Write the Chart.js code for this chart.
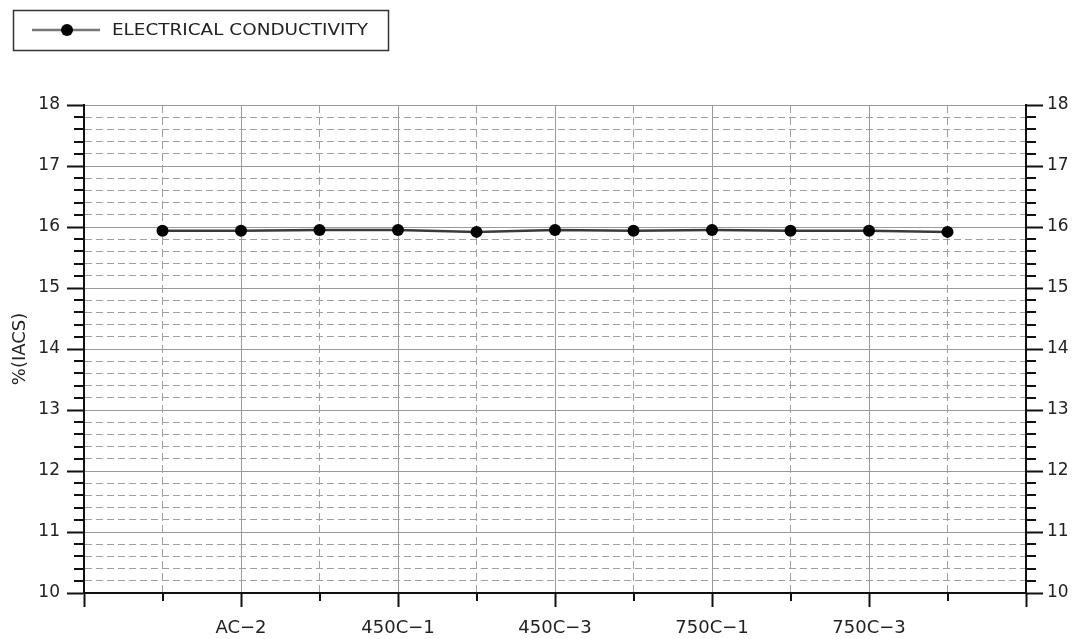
<!DOCTYPE html>
<html>
<head>
<meta charset="utf-8">
<script src="https://cdn.jsdelivr.net/npm/chart.js@4/dist/chart.umd.min.js"></script>
<style>
  html, body { margin: 0; padding: 0; background: #fff; }
  #wrap { width: 1079px; height: 639px; }
</style>
</head>
<body>
<div id="wrap"><canvas id="c" width="1079" height="639"></canvas></div>
<script>
const categories = ['AC−1', 'AC−2', 'AC−3', '450C−1', '450C−2', '450C−3', '450C−4', '750C−1', '750C−2', '750C−3', '750C−4'];
const conductivity = [15.94, 15.94, 15.95, 15.95, 15.92, 15.95, 15.94, 15.95, 15.94, 15.94, 15.92];
const seriesName = 'ELECTRICAL CONDUCTIVITY';
const yTitle = '%(IACS)';
const yMin = 10, yMax = 18, yStep = 0.2;

const isInt = v => Math.abs(v - Math.round(v)) < 1e-6;
const isOdd = v => isInt(v) && Math.abs(Math.round(v)) % 2 === 1;

const points = conductivity.map((v, i) => ({ x: i, y: v }));

const minorTicks = {
  id: 'minorTicks',
  afterDraw(chart) {
    const ctx = chart.ctx;
    ctx.save();
    ctx.strokeStyle = '#111';
    ctx.lineWidth = 2;
    const y = chart.scales.y, y2 = chart.scales.y2, x = chart.scales.x;
    y.ticks.forEach(t => {
      if (isInt(t.value)) return;
      const p = Math.round(y.getPixelForValue(t.value));
      ctx.beginPath(); ctx.moveTo(y.right - 10, p); ctx.lineTo(y.right, p); ctx.stroke();
    });
    y2.ticks.forEach(t => {
      if (isInt(t.value)) return;
      const p = Math.round(y2.getPixelForValue(t.value));
      ctx.beginPath(); ctx.moveTo(y2.left, p); ctx.lineTo(y2.left + 10, p); ctx.stroke();
    });
    x.ticks.forEach(t => {
      if (isOdd(t.value)) return;
      const p = Math.round(x.getPixelForValue(t.value));
      ctx.beginPath(); ctx.moveTo(p, x.top); ctx.lineTo(p, x.top + 8); ctx.stroke();
    });
    ctx.restore();
  }
};

const boxedLegend = {
  id: 'boxedLegend',
  afterDraw(chart) {
    const ctx = chart.ctx;
    ctx.save();
    ctx.strokeStyle = '#333';
    ctx.lineWidth = 1.5;
    ctx.strokeRect(13.5, 10.5, 375, 40);
    ctx.strokeStyle = '#777';
    ctx.lineWidth = 2.5;
    ctx.beginPath(); ctx.moveTo(32, 30); ctx.lineTo(100, 30); ctx.stroke();
    ctx.fillStyle = '#000';
    ctx.beginPath(); ctx.arc(67, 30, 6, 0, Math.PI * 2); ctx.fill();
    ctx.font = '16px "DejaVu Sans"';
    ctx.fillStyle = '#222';
    ctx.textBaseline = 'middle';
    const w = ctx.measureText(seriesName).width;
    const sx = 256 / w;
    ctx.translate(112, 31);
    ctx.scale(sx, 1);
    ctx.fillText(seriesName, 0, 0);
    ctx.restore();
  }
};

new Chart(document.getElementById('c'), {
  type: 'line',
  data: {
    datasets: [{
      label: seriesName,
      data: points,
      borderColor: '#3a3a3a',
      borderWidth: 2.5,
      pointRadius: 6,
      pointHoverRadius: 6,
      pointBackgroundColor: '#000',
      pointBorderColor: '#000',
      pointBorderWidth: 0,
      tension: 0
    }]
  },
  options: {
    responsive: false,
    animation: false,
    events: [],
    layout: { padding: { top: 105, left: 0, right: 0, bottom: 0 } },
    plugins: { legend: { display: false }, tooltip: { enabled: false } },
    scales: {
      x: {
        type: 'linear',
        position: 'bottom',
        min: -1, max: 11,
        afterFit(s) { s.height = 46; },
        ticks: {
          stepSize: 1,
          autoSkip: false,
          maxRotation: 0,
          padding: 11,
          color: '#222',
          font: { size: 18, family: 'DejaVu Sans' },
          callback: v => (isOdd(v) && categories[Math.round(v)]) ? categories[Math.round(v)] : ''
        },
        grid: {
          color: c => (c.tick && isOdd(c.tick.value)) ? '#9a9a9a' : '#a0a0a0',
          lineWidth: 1,
          tickLength: 14,
          tickWidth: 2,
          tickColor: c => (c.tick && isOdd(c.tick.value)) ? '#111' : 'rgba(0,0,0,0)'
        },
        border: {
          display: true, color: '#111', width: 2,
          dash: c => (c.tick && !isOdd(c.tick.value)) ? [8, 4] : []
        }
      },
      y: {
        type: 'linear',
        position: 'left',
        min: yMin, max: yMax,
        afterFit(s) { s.width = 84; },
        title: {
          display: true, text: yTitle, color: '#222',
          font: { size: 18, family: 'DejaVu Sans' },
          padding: { top: 10, bottom: 0 }
        },
        ticks: {
          stepSize: yStep,
          autoSkip: false,
          padding: 7,
          color: '#222',
          font: { size: 17, family: 'DejaVu Sans' },
          callback: v => isInt(v) ? String(Math.round(v)) : ''
        },
        grid: {
          color: c => (c.tick && isInt(c.tick.value)) ? '#9a9a9a' : '#a0a0a0',
          lineWidth: 1,
          tickLength: 17,
          tickWidth: 2,
          tickColor: c => (c.tick && isInt(c.tick.value)) ? '#111' : 'rgba(0,0,0,0)'
        },
        border: {
          display: true, color: '#111', width: 2,
          dash: c => (c.tick && !isInt(c.tick.value)) ? [7, 4] : []
        }
      },
      y2: {
        type: 'linear',
        position: 'right',
        min: yMin, max: yMax,
        afterFit(s) { s.width = 53; },
        ticks: {
          stepSize: yStep,
          autoSkip: false,
          padding: 4,
          color: '#222',
          font: { size: 17, family: 'DejaVu Sans' },
          callback: v => isInt(v) ? String(Math.round(v)) : ''
        },
        grid: {
          drawOnChartArea: false,
          tickLength: 17,
          tickWidth: 2,
          tickColor: c => (c.tick && isInt(c.tick.value)) ? '#111' : 'rgba(0,0,0,0)'
        },
        border: { display: true, color: '#111', width: 2 }
      }
    }
  },
  plugins: [minorTicks, boxedLegend]
});
</script>
</body>
</html>
